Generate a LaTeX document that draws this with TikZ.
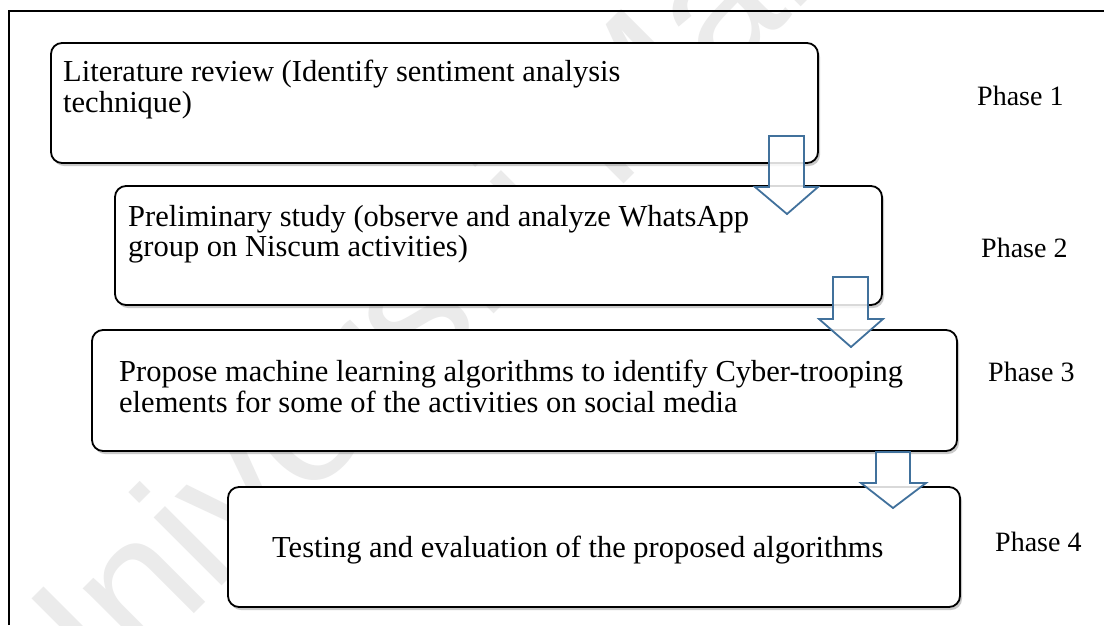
\documentclass[tikz,border=0pt]{standalone}
\usepackage{fontspec}
\setmainfont{Liberation Serif}
\newfontfamily\wmfont{Liberation Sans}
\usetikzlibrary{shadows}
\definecolor{arrowblue}{HTML}{41719C}
\definecolor{wmgray}{HTML}{EBEBEB}
\tikzset{
  phasebox/.style={draw=black, line width=1.8pt, rounded corners=11pt, fill=white,
    drop shadow={shadow xshift=2pt, shadow yshift=-3pt, opacity=0.35, fill=black!60}},
  boxtext/.style={anchor=base west, inner sep=0pt, font=\fontsize{30.5}{31}\selectfont, align=left},
  phaselabel/.style={anchor=base west, inner sep=0pt, font=\fontsize{28}{30}\selectfont},
  blockarrow/.style={draw=arrowblue, line width=1.8pt, fill=white, fill opacity=0.85, line join=miter},
}
\begin{document}
\begin{tikzpicture}[x=1pt,y=-1pt]
\useasboundingbox (0,0) rectangle (1104,625);
\fill[white] (0,0) rectangle (1104,625);
% watermark
\node[rotate=45, anchor=base west, inner sep=0pt, text=wmgray, font=\wmfont\fontsize{182}{182}\selectfont] (wm) at (49,759) {Universiti Malaya};
% frame
\coordinate (fbl) at (9,625);
\coordinate (ftl) at (9,11);
\coordinate (ftr) at (1104,11);
\draw[line width=1.4pt] (fbl) -- (ftl) -- (ftr);
% boxes
\path[phasebox] (51,43) rectangle (818,163);
\coordinate (b1) at (51,43);
\path[phasebox] (115,186) rectangle (882,305);
\coordinate (b2) at (115,186);
\path[phasebox] (92,330) rectangle (957,451);
\coordinate (b3) at (92,330);
\path[phasebox] (228,487) rectangle (960,607);
\coordinate (b4) at (228,487);
% texts
\node[boxtext] (t1a) at (63,81) {Literature review (Identify sentiment analysis};
\node[boxtext] (t1b) at (63,112) {technique)};
\node[boxtext] (t2a) at (128,226) {Preliminary study (observe and analyze WhatsApp};
\node[boxtext] (t2b) at (128,256) {group on Niscum activities)};
\node[boxtext] (t3a) at (119,381) {Propose machine learning algorithms to identify Cyber-trooping};
\node[boxtext] (t3b) at (119,412) {elements for some of the activities on social media};
\node[boxtext] (t4) at (272,557) {Testing and evaluation of the proposed algorithms};
% phase labels
\node[phaselabel] (p1) at (977,105) {Phase 1};
\node[phaselabel] (p2) at (981,257) {Phase 2};
\node[phaselabel] (p3) at (988,381) {Phase 3};
\node[phaselabel] (p4) at (995,551) {Phase 4};
% block arrows
\draw[blockarrow] (769,136) -- (804,136) -- (804,187) -- (818,187) -- (787,214) -- (755,187) -- (769,187) -- cycle;
\draw[blockarrow] (833,277) -- (868,277) -- (868,319) -- (883,319) -- (851,347) -- (819,319) -- (833,319) -- cycle;
\draw[blockarrow] (876,452) -- (910,452) -- (910,483) -- (926,483) -- (893,508) -- (861,483) -- (876,483) -- cycle;
\end{tikzpicture}
\end{document}
